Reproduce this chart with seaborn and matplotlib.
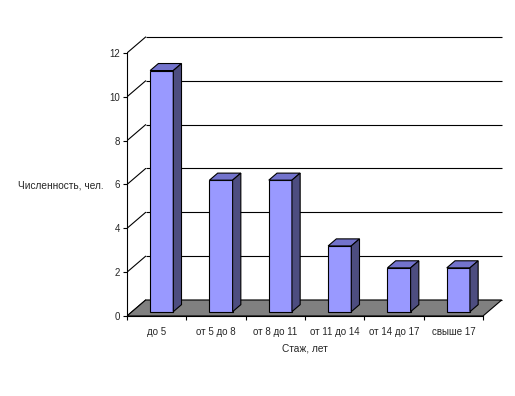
import matplotlib
matplotlib.use('Agg')
import matplotlib.pyplot as plt
from matplotlib.patches import Polygon
import seaborn as sns
import pandas as pd
import numpy as np

categories = ['до 5', 'от 5 до 8', 'от 8 до 11', 'от 11 до 14', 'от 14 до 17', 'свыше 17']
counts = [11, 6, 6, 3, 2, 2]
y_ticks = [0, 2, 4, 6, 8, 10, 12]

x_label = 'Стаж, лет'
y_label = 'Численность, чел.'

# fake 3D (Excel style): depth offset of the back wall, in data units
DEPTH_X = 0.315
DEPTH_Y = 0.73
BAR_Z0 = 0.27   # depth where the bar front face sits
BAR_DZ = 0.44   # bar depth
BAR_W = 0.39

FRONT = '#9999FF'
TOP = '#7373CC'
SIDE = '#4D4D80'
FLOOR = '#808080'
LW = 0.8

sns.set_style('ticks')
plt.rcParams['font.family'] = ['Liberation Sans', 'DejaVu Sans']
plt.rcParams['font.size'] = 7

df = pd.DataFrame({'cat': categories, 'count': counts})
n = len(categories)

fig = plt.figure(figsize=(5.15, 3.96), dpi=100)
ax = fig.add_axes([127 / 515, 80 / 396, 378 / 515, 286 / 396])

sns.barplot(data=df, x='cat', y='count', color=FRONT, saturation=1,
            width=BAR_W, edgecolor='black', linewidth=LW, ax=ax, zorder=2)
bars = list(ax.patches)

# shift bar fronts into the depth and add top / side faces
dzx, dzy = BAR_DZ * DEPTH_X, BAR_DZ * DEPTH_Y
for i, p in enumerate(bars):
    x0 = i - BAR_W / 2 + BAR_Z0 * DEPTH_X
    y0 = BAR_Z0 * DEPTH_Y
    h = p.get_height()
    p.set_x(x0)
    p.set_y(y0)
    x1 = x0 + BAR_W
    top = Polygon([(x0, y0 + h), (x1, y0 + h), (x1 + dzx, y0 + h + dzy), (x0 + dzx, y0 + h + dzy)],
                  closed=True, facecolor=TOP, edgecolor='black', linewidth=LW, zorder=2)
    side = Polygon([(x1, y0), (x1, y0 + h), (x1 + dzx, y0 + h + dzy), (x1 + dzx, y0 + dzy)],
                   closed=True, facecolor=SIDE, edgecolor='black', linewidth=LW, zorder=2)
    ax.add_patch(top)
    ax.add_patch(side)

# floor
floor = Polygon([(-0.5, 0), (n - 0.5, 0), (n - 0.5 + DEPTH_X, DEPTH_Y), (-0.5 + DEPTH_X, DEPTH_Y)],
                closed=True, facecolor=FLOOR, edgecolor='black', linewidth=LW, zorder=0.5)
ax.add_patch(floor)

# back wall gridlines and left wall diagonals
ax.hlines(np.array(y_ticks) + DEPTH_Y, -0.5 + DEPTH_X, n - 0.5 + DEPTH_X,
          color='black', linewidth=LW, zorder=0.4)
for v in y_ticks:
    ax.plot([-0.5, -0.5 + DEPTH_X], [v, v + DEPTH_Y], color='black', linewidth=LW, zorder=0.4)

ax.set_xlim(-0.5, -0.5 + 378 / 59.33)
ax.set_ylim(0, 286 / 21.92)

for s in ['top', 'right']:
    ax.spines[s].set_visible(False)
ax.spines['left'].set_bounds(0, 12)
ax.spines['bottom'].set_bounds(-0.5, n - 0.5)
for s in ['left', 'bottom']:
    ax.spines[s].set_linewidth(LW)
    ax.spines[s].set_color('black')

ax.set_xticks(np.arange(-0.5, n, 1))
ax.set_xticklabels([''] * (n + 1))
ax.set_xticks(range(n), minor=True)
ax.set_xticklabels(categories, minor=True)
ax.tick_params(axis='x', which='major', bottom=True, direction='out', length=3, width=LW, color='black')
ax.tick_params(axis='x', which='minor', bottom=True, length=0, pad=8, labelsize=7)

ax.set_yticks(y_ticks)
ax.set_yticklabels([str(v) for v in y_ticks])
ax.tick_params(axis='y', left=True, direction='out', length=3, width=LW, color='black', pad=2, labelsize=7)

ax.set_xlabel('')
ax.set_ylabel(y_label, rotation=0, ha='center', va='center', fontsize=7.3)
ax.yaxis.set_label_coords(-0.175, 0.458)
ax.text(2.5, -1.46, x_label, ha='center', va='center', fontsize=7.3, clip_on=False)

fig.savefig('out.png', dpi=100)
